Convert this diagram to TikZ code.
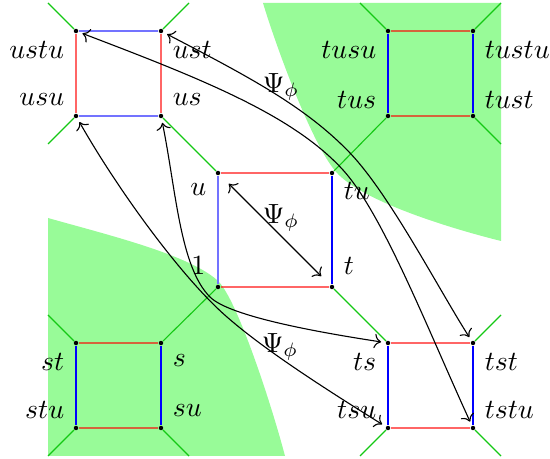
\documentclass[tikz,border=0pt]{standalone}
\usepackage{amsmath,amssymb}
\usetikzlibrary{arrows.meta}
\definecolor{palegreen}{RGB}{152,251,152}
\definecolor{gline}{RGB}{20,200,20}

\begin{document}
\begin{tikzpicture}[x=0.36pt,y=-0.36pt,
    dot/.style={circle,fill=black,inner sep=0pt,minimum size=1.6pt},
    redge/.style={red,draw opacity=0.6,line width=0.6pt},
    bedge/.style={blue,line width=0.6pt},
    bedgel/.style={blue!55,line width=0.6pt},
    diag/.style={gline,line width=0.4pt},
    map/.style={<->,black,line width=0.4pt,shorten <=1.5pt,shorten >=1.5pt},
    lbl/.style={font=\normalsize}]
    \useasboundingbox (0,0) rectangle (550,459);
    \fill[palegreen] (263,3) -- (501,3) -- (501,241) .. controls (441,226) and (362,200) .. (337,173)
      .. controls (312,146) and (275,43) .. (263,3) -- cycle;
    \fill[palegreen] (48,218) .. controls (108,235) and (187,254) .. (217,280)
      .. controls (237,297) and (273,410) .. (285,456) -- (48,456) -- cycle;
    \foreach \n/\px/\py in {ustu/76/31,ust/161/31,usu/76/116,us/161/116,
        tusu/388/31,tustu/473/31,tus/388/116,tust/473/116,
        u/218/173,tu/332/173,e/218/287,t/332/287,
        st/76/343,s/161/343,stu/76/428,su/161/428,
        ts/388/343,tst/473/343,tsu/388/428,tstu/473/428}
      {\node[dot] (\n) at (\px,\py) {};}
    \draw[bedgel] (ustu) -- (ust) (usu) -- (us);
    \draw[redge] (ustu) -- (usu) (ust) -- (us);
    \draw[redge] (tusu) -- (tustu) (tus) -- (tust);
    \draw[bedge] (tusu) -- (tus) (tustu) -- (tust);
    \draw[redge] (u) -- (tu) (e) -- (t);
    \draw[bedgel] (u) -- (e);
    \draw[bedge] (tu) -- (t);
    \draw[redge] (st) -- (s) (stu) -- (su);
    \draw[bedge] (st) -- (stu) (s) -- (su);
    \draw[redge] (ts) -- (tst) (tsu) -- (tstu);
    \draw[bedge] (ts) -- (tsu) (tst) -- (tstu);
    \draw[diag] (us) -- (u) (tus) -- (tu) (e) -- (s) (t) -- (ts);
    \foreach \n/\dx/\dy in {ustu/-1/-1,ust/1/-1,usu/-1/1,tusu/-1/-1,tustu/1/-1,tust/1/1,
        st/-1/-1,stu/-1/1,su/1/1,tst/1/-1,tstu/1/1,tsu/-1/1}
      {\draw[diag] (\n) -- ++(28*\dx,28*\dy);}
    \foreach \n/\txt/\px/\py in {ustu/ustu/74/50,usu/usu/74/100,tusu/tusu/386/50,tus/tus/386/100,
        u/u/216/190,e/1/215/266,st/st/74/362,stu/stu/74/410,ts/ts/386/362,tsu/tsu/386/410}
      {\node[lbl,anchor=east] (l-\n) at (\px,\py) {$\txt$};}
    \foreach \n/\txt/\px/\py in {ust/ust/163/50,us/us/163/100,tustu/tustu/475/50,tust/tust/475/100,
        tu/tu/334/191,t/t/334/266,s/s/163/361,su/su/163/411,tst/tst/475/362,tstu/tstu/475/410}
      {\node[lbl,anchor=west] (l-\n) at (\px,\py) {$\txt$};}
    \draw[map,shorten <=4.5pt,shorten >=4.5pt] (u) -- (t);
    \draw[map] (ust) .. controls (247,76) and (305,106) .. (350,153)
      .. controls (390,195) and (438,288) .. (tst);
    \draw[map] (ustu) .. controls (202,79) and (293,115) .. (343,170)
      .. controls (383,214) and (428,330) .. (tstu);
    \draw[map] (us) .. controls (176,190) and (180,267) .. (210,297)
      .. controls (230,317) and (323,333) .. (ts);
    \draw[map] (usu) .. controls (118,190) and (182,278) .. (227,317)
      .. controls (267,352) and (332,393) .. (tsu);
    \node[lbl] (psi1) at (281,87) {$\Psi_\phi$};
    \node[lbl] (psi2) at (281,218) {$\Psi_\phi$};
    \node[lbl] (psi3) at (280,347) {$\Psi_\phi$};
  \end{tikzpicture}
\end{document}
